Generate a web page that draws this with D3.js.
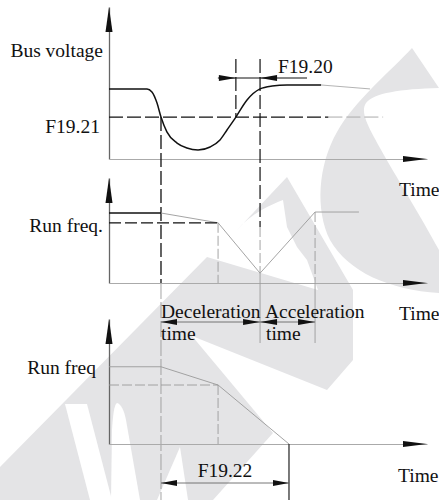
<!DOCTYPE html>
<html>
<head>
<meta charset="utf-8">
<script src="https://cdn.jsdelivr.net/npm/d3@7"></script>
<style>
body { margin: 0; background: #fff; }
svg { display: block; font-family: "Liberation Serif", "Times New Roman", serif; }
</style>
</head>
<body>
<svg width="439" height="500"></svg>
<script>
// ---- data (time in arbitrary units 0..100, shared by the 3 panels) ----
var timeDomain = [0, 100];

// bus voltage (panel 1)
var busT = [0, 11.95, 13.5, 15.1, 16.35, 18.2, 21.4, 24.5, 28.0, 31.8, 34.9, 37.1, 39.9, 43.4, 47.5, 51.3, 56.0, 66.7];
var busV = [46, 46, 44.1, 36.8, 27.6, 17.8, 10.5, 7.2, 5.9, 7.9, 12.5, 19.1, 27.6, 38.8, 46.1, 48.0, 48.7, 48.7];
var busTailT = [66.7, 82.1];
var busTailV = [48.7, 46.1];
var f1921 = 27.6;               // undervoltage threshold
var f1921Split = [69, 86.2];    // dark part ends / light part ends

// key instants
var tDrop = 16.35, tDecEnd = 34.3, tRecover = 39.9, tResume = 47.5,
    tStop = 56.6, tAccEnd = 64.8;

// run frequency (panel 2)
var runHoldT = [0, tDrop];
var runHoldF = [50, 50];
var runT = [tDrop, tDecEnd, tResume, tAccEnd, 78.6];
var runF = [50, 43, 7, 50.7, 50.7];
var runDashF = 43;

// run frequency (panel 3)
var stopT = [0, tDrop, tDecEnd, tStop];
var stopF = [55, 55, 42, 0];
var stopDashF = 42;

var labels = {
  bus: "Bus voltage", run2: "Run freq.", run3: "Run freq", time: "Time",
  f1921: "F19.21", f1920: "F19.20", f1922: "F19.22",
  dec: "Deceleration", acc: "Acceleration", t: "time"
};

// ---- setup ----
var svg = d3.select("svg");
var BLACK = "#111", GREY = "#9a9a9a", WM = "#e4e4e6";

var x = d3.scaleLinear().domain(timeDomain).range([109, 427]);
var y1 = d3.scaleLinear().domain([0, 100]).range([159, 7]);
var y2 = d3.scaleLinear().domain([0, 75]).range([283, 178]);
var y3 = d3.scaleLinear().domain([0, 89]).range([444, 319]);

// ---- watermark (decoration) ----
var wm = svg.append("g");
wm.append("path").attr("fill", WM)
  .attr("d", "M412,48 C392,70 355,100 337,132 C318,165 315,210 330,240 C348,272 390,290 439,293 L439,250 C420,215 395,175 380,148 C368,126 360,112 366,103 C374,93 400,89 439,88 Z");
wm.append("path").attr("fill", WM)
  .attr("d", "M0,467 L207,257 L318,290 L307,260 L297,247 L287,227 L283,200 C272,204 250,214 237,230 L287,177 L353,290 L353,360 L327,390 L192,336 L273,433 L213,500 L0,500 Z");
wm.append("path").attr("fill", "#fff").attr("d", "M65,404 L87,404 L112,500 L90,500 Z");
wm.append("path").attr("fill", "#fff").attr("d", "M117,403 C121,404 124,410 126,420 L140,500 L111,500 L112,430 C113,415 114,405 117,403 Z");
wm.append("path").attr("fill", "#fff").attr("d", "M180,447 L188,500 L157,500 Z");

// ---- helpers ----
function arrowHead(g, tx, ty, dir, len, half) {
  // dir: "up", "left", "right"
  var pts;
  if (dir === "up") pts = [[tx, ty], [tx - half, ty + len], [tx + half, ty + len]];
  else if (dir === "right") pts = [[tx, ty], [tx - len, ty - half], [tx - len, ty + half]];
  else pts = [[tx, ty], [tx + len, ty - half], [tx + len, ty + half]];
  g.append("polygon").attr("points", pts.map(function(p) { return p.join(","); }).join(" "))
    .attr("fill", BLACK);
}

function seg(g, x1, y1_, x2, y2_, color, w, dash) {
  var l = g.append("line")
    .attr("x1", x1).attr("y1", y1_).attr("x2", x2).attr("y2", y2_)
    .attr("stroke", color).attr("stroke-width", w);
  if (dash) l.attr("stroke-dasharray", dash);
  return l;
}

function axes(g, yScale) {
  var yAx = d3.axisLeft(yScale).tickValues([]).tickSizeOuter(0);
  g.append("g").attr("transform", "translate(" + x(0) + ",0)").call(yAx)
    .select(".domain").attr("stroke", "#666").attr("stroke-width", 1.3);
  var xAx = d3.axisBottom(x).tickValues([]).tickSizeOuter(0);
  g.append("g").attr("transform", "translate(0," + yScale(0) + ")").call(xAx)
    .select(".domain").attr("stroke", "#aaa").attr("stroke-width", 1);
  arrowHead(g, x(0), yScale.range()[1], "up", 25, 3.5);
  arrowHead(g, x(100), yScale(0), "right", 24, 3);
}

function text(g, s, tx, ty, anchor) {
  g.append("text").attr("x", tx).attr("y", ty).attr("font-size", 19.5)
    .attr("text-anchor", anchor || "start").attr("fill", "#111").text(s);
}

var lineGen = function(ys) {
  return d3.line().x(function(d) { return x(d[0]); }).y(function(d) { return ys(d[1]); });
};

// ---- panel 1: bus voltage ----
var p1 = svg.append("g");
axes(p1, y1);
p1.append("path").datum(d3.zip(busT, busV))
  .attr("d", lineGen(y1).curve(d3.curveMonotoneX))
  .attr("fill", "none").attr("stroke", BLACK).attr("stroke-width", 1.5);
p1.append("path").datum(d3.zip(busTailT, busTailV))
  .attr("d", lineGen(y1)).attr("fill", "none").attr("stroke", "#aaa").attr("stroke-width", 0.9);
seg(p1, x(0), y1(f1921), x(f1921Split[0]), y1(f1921), BLACK, 1.3, "14,4");
seg(p1, x(f1921Split[0]), y1(f1921), x(f1921Split[1]), y1(f1921), "#aaa", 1, "14,4");
// recovery markers
seg(p1, x(tRecover), 59, x(tRecover), y1(f1921), BLACK, 1.2, "14,4");
seg(p1, x(tResume), 59, x(tResume), 227, BLACK, 1.2, "14,4");
// F19.20 dimension
seg(p1, x(tRecover) - 18, 78, 307, 78, BLACK, 1);
arrowHead(p1, x(tRecover), 78, "right", 17, 3);
arrowHead(p1, x(tResume), 78, "left", 17, 3);
text(p1, labels.f1920, 278, 73);
text(p1, labels.bus, 103, 57, "end");
text(p1, labels.f1921, 100, 133, "end");
text(p1, labels.time, 399, 196);

// drop marker running through all panels
seg(svg, x(tDrop), y1(f1921), x(tDrop), y2(0), BLACK, 1.3, "14,4");
seg(svg, x(tDrop), y2(0), x(tDrop), 500, GREY, 0.9, "16,3");

// ---- panel 2: run freq with recovery ----
var p2 = svg.append("g");
axes(p2, y2);
p2.append("path").datum(d3.zip(runHoldT, runHoldF))
  .attr("d", lineGen(y2)).attr("fill", "none").attr("stroke", BLACK).attr("stroke-width", 1.4);
p2.append("path").datum(d3.zip(runT, runF))
  .attr("d", lineGen(y2)).attr("fill", "none").attr("stroke", GREY).attr("stroke-width", 0.9);
seg(p2, x(0), y2(runDashF), x(tDecEnd), y2(runDashF), BLACK, 1.3, "12,4");
seg(p2, x(tDecEnd), y2(runDashF), x(tDecEnd), y2(0), GREY, 0.9, "10,3");
seg(p2, x(tResume), 227, x(tResume), y2(7), GREY, 0.9, "10,3");
seg(p2, x(tResume), y2(7), x(tResume), 343, GREY, 0.9);
seg(p2, x(tAccEnd), y2(50.7), x(tAccEnd), y2(0), GREY, 0.9, "10,3");
seg(p2, x(tAccEnd), y2(0), x(tAccEnd), 343, GREY, 0.9);
text(p2, labels.run2, 103, 232, "end");
text(p2, labels.time, 399, 320);
// deceleration / acceleration dimensions
seg(p2, x(tDrop), 322, x(tAccEnd), 322, "#666", 0.9);
arrowHead(p2, x(tDrop), 322, "left", 16, 3);
arrowHead(p2, x(tResume), 322, "right", 17, 3);
arrowHead(p2, x(tResume), 322, "left", 17, 3);
arrowHead(p2, x(tAccEnd), 322, "right", 17, 3);
text(p2, labels.dec, x(tDrop), 318);
text(p2, labels.acc, 265, 318);
text(p2, labels.t, x(tDrop), 340);
text(p2, labels.t, 266, 340);

// ---- panel 3: run freq to stop ----
var p3 = svg.append("g");
axes(p3, y3);
p3.append("path").datum(d3.zip(stopT, stopF))
  .attr("d", lineGen(y3)).attr("fill", "none").attr("stroke", GREY).attr("stroke-width", 0.9);
seg(p3, x(0), y3(stopDashF), x(tDecEnd), y3(stopDashF), GREY, 0.9, "10,3");
seg(p3, x(tDecEnd), y3(stopDashF), x(tDecEnd), y3(0), GREY, 0.9, "10,3");
seg(p3, x(tStop), y3(0), x(tStop), 500, "#333", 1.3);
seg(p3, x(tDrop), 483, x(tStop), 483, "#666", 0.9);
arrowHead(p3, x(tDrop), 483, "left", 16, 3);
arrowHead(p3, x(tStop), 483, "right", 16, 3);
text(p3, labels.run3, 96, 374, "end");
text(p3, labels.f1922, 225, 477, "middle");
text(p3, labels.time, 398, 482);
</script>
</body>
</html>
